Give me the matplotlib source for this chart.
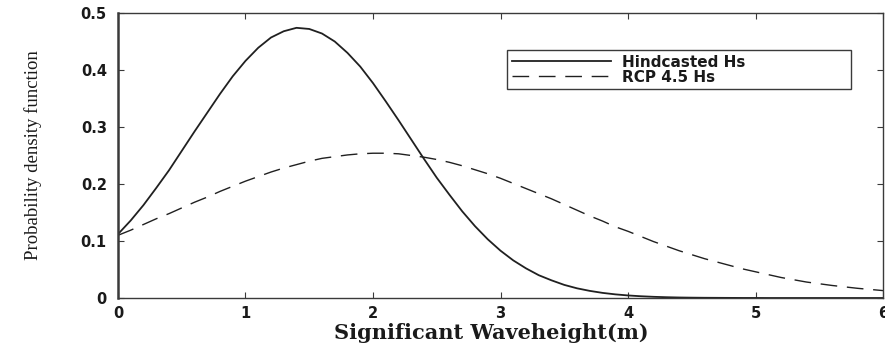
"""
Probability density of significant wave height: hindcast vs RCP 4.5.
Recreated as a single panel, 885x344 px.
"""

import matplotlib
matplotlib.use("Agg")
import matplotlib.pyplot as plt

# ── Data (every 0.1 m) ───────────────────────────────────────────────
hs = [0.0, 0.1, 0.2, 0.3, 0.4, 0.5, 0.6, 0.7, 0.8, 0.9,
      1.0, 1.1, 1.2, 1.3, 1.4, 1.5, 1.6, 1.7, 1.8, 1.9,
      2.0, 2.1, 2.2, 2.3, 2.4, 2.5, 2.6, 2.7, 2.8, 2.9,
      3.0, 3.1, 3.2, 3.3, 3.4, 3.5, 3.6, 3.7, 3.8, 3.9,
      4.0, 4.1, 4.2, 4.3, 4.4, 4.5, 4.6, 4.7, 4.8, 4.9,
      5.0, 5.1, 5.2, 5.3, 5.4, 5.5, 5.6, 5.7, 5.8, 5.9, 6.0]

pdf_hindcast = [0.112, 0.136, 0.163, 0.193, 0.224, 0.258, 0.292, 0.325,
                0.358, 0.389, 0.416, 0.439, 0.457, 0.468, 0.474, 0.472,
                0.464, 0.450, 0.430, 0.406, 0.377, 0.345, 0.312, 0.278,
                0.244, 0.211, 0.181, 0.152, 0.126, 0.103, 0.083, 0.066,
                0.052, 0.040, 0.031, 0.023, 0.017, 0.0125, 0.009, 0.0064,
                0.0045, 0.0031, 0.0021, 0.0014, 0.0009, 0.0006, 0.0004,
                0.0003, 0.0002, 0.0001, 0.0001, 0.0, 0.0, 0.0, 0.0, 0.0,
                0.0, 0.0, 0.0, 0.0, 0.0]

pdf_rcp45 = [0.110, 0.119, 0.129, 0.139, 0.148, 0.158, 0.168, 0.177,
             0.187, 0.196, 0.205, 0.213, 0.221, 0.228, 0.234, 0.240,
             0.245, 0.248, 0.251, 0.253, 0.254, 0.254, 0.253, 0.250,
             0.247, 0.243, 0.238, 0.232, 0.225, 0.218, 0.210, 0.201,
             0.192, 0.183, 0.174, 0.164, 0.154, 0.144, 0.135, 0.125,
             0.117, 0.108, 0.099, 0.091, 0.083, 0.076, 0.069, 0.063,
             0.057, 0.051, 0.046, 0.041, 0.036, 0.032, 0.028, 0.025,
             0.022, 0.0195, 0.017, 0.015, 0.013]

series_labels = ["Hindcasted Hs", "RCP 4.5 Hs"]
x_ticks = [0, 1, 2, 3, 4, 5, 6]
y_ticks = [0, 0.1, 0.2, 0.3, 0.4, 0.5]
y_ticklabels = ["0", "0.1", "0.2", "0.3", "0.4", "0.5"]

# ── Style ────────────────────────────────────────────────────────────
SPINE = "#3a3a3a"
INK = "#1a1a1a"
TICK_FONT = {"family": "DejaVu Sans", "weight": "bold", "size": 10.5}

fig = plt.figure(figsize=(8.85, 3.44), dpi=100)
ax = fig.add_axes([0.1333, 0.1337, 0.8645, 0.8285])

ax.plot(hs, pdf_hindcast, color="#202020", linewidth=1.3,
        label=series_labels[0])
ax.plot(hs, pdf_rcp45, color="#202020", linewidth=1.0,
        linestyle=(0, (12, 7)), label=series_labels[1])

ax.set_xlim(0, 6)
ax.set_ylim(0, 0.5)
ax.set_xticks(x_ticks)
ax.set_yticks(y_ticks)
ax.set_xticklabels([str(t) for t in x_ticks], fontdict=TICK_FONT, color=INK)
ax.set_yticklabels(y_ticklabels, fontdict=TICK_FONT, color=INK)

ax.tick_params(direction="in", length=4, width=0.8, color=SPINE,
               top=True, right=True)
ax.tick_params(axis="x", pad=6)
ax.tick_params(axis="y", pad=8)

for side, sp in ax.spines.items():
    sp.set_color(SPINE)
    sp.set_linewidth(1.0)
ax.spines["left"].set_linewidth(1.8)

# ── Labels ───────────────────────────────────────────────────────────
ax.set_xlabel("Significant Waveheight(m)", family="DejaVu Serif",
              weight="bold", fontsize=15, color=INK)
ax.xaxis.set_label_coords(0.4876, -0.086)
ax.xaxis.label.set_va("top")

ax.set_ylabel("Probability density function", family="Liberation Serif",
              fontsize=13.5, color=INK)
ax.yaxis.set_label_coords(-0.099, 0.5)

# ── Legend ───────────────────────────────────────────────────────────
leg = ax.legend(loc="lower left", bbox_to_anchor=(0.5085, 0.733, 0.4495, 0.1475),
                mode="expand", fancybox=False, framealpha=1,
                edgecolor=SPINE, handlelength=6.5, handletextpad=0.7,
                labelspacing=0.0, borderpad=0.3, borderaxespad=0,
                prop={"family": "DejaVu Sans", "weight": "bold", "size": 11})
leg.get_frame().set_linewidth(1.0)
for t in leg.get_texts():
    t.set_color(INK)

fig.savefig("out.png", dpi=100)
